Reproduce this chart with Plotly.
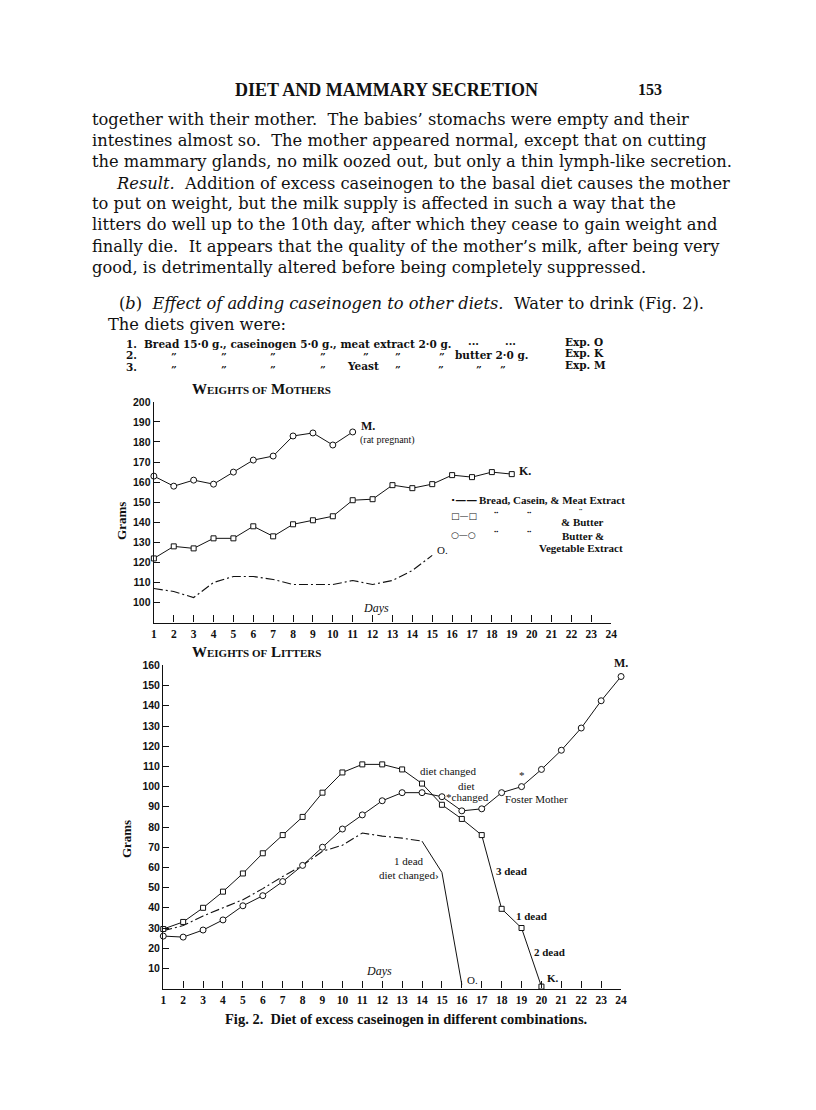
import plotly.graph_objects as go

# ============================================
# DATA
# ============================================

day_ticks = list(range(1, 25))

# Weights of mothers, grams
mother_days_o = list(range(1, 16))
mother_o = [107, 105.5, 102.5, 110, 113, 113, 111.5, 109, 109, 109, 111, 109, 111, 116, 123.5]
mother_days_k = list(range(1, 20))
mother_k = [122, 128, 127, 132, 132, 138, 133, 139, 141, 143, 151, 151.5, 158.5, 157, 159,
            163.5, 162.5, 165, 164]
mother_days_m = list(range(1, 12))
mother_m = [163, 158, 161, 159, 165, 171, 173, 183, 184.5, 178.5, 185]

# Weights of litters, grams
litter_days_o = list(range(1, 17))
litter_o = [28.7, 31.2, 36, 40, 44, 49.5, 55.5, 61, 68, 71, 77, 75.5, 74.5, 73, 57.5, 2]
litter_days_k = list(range(1, 21))
litter_k = [29.5, 33, 40, 48, 57, 67, 76, 85, 97, 107, 111, 111, 108.5, 101.5, 91, 84, 76,
            39.5, 30, 1]
litter_days_m = list(range(1, 25))
litter_m = [26, 25.5, 29, 34, 41, 46, 53, 61, 70, 79, 86, 93, 97, 97, 95, 88, 89, 97, 100,
            108.5, 118, 129, 142.5, 154.5]

mother_ticks = list(range(100, 201, 10))
litter_ticks = list(range(10, 161, 10))

# ============================================
# PAGE HELPERS
# ============================================

# the page body has an 8px margin, so the figure is a bit smaller than the window
OX, OY = 8, 10
W, H = 800, 1092
BODY = "DejaVu Serif"
SERIF = "Liberation Serif"
SANS = "Liberation Sans"
DASHDOT = "9px,3px,2px,3px"
INK = "#111"


def px(x, y):
    """page pixels -> paper coords"""
    return (x - OX) / W, 1 - (y - OY) / H


def xdom(a, b):
    return [(a - OX) / W, (b - OX) / W]


def ydom(top, bottom):
    return [1 - (bottom - OY) / H, 1 - (top - OY) / H]


annotations = []


def note(text, x, y, size=11, anchor="left", family=SERIF, angle=0, bold=False):
    ax, ay = px(x, y)
    annotations.append(dict(
        text=text, x=ax, y=ay, xref="paper", yref="paper",
        xanchor=anchor, yanchor="middle", showarrow=False, textangle=angle,
        font=dict(family=family, size=size, color=INK,
                  weight="bold" if bold else "normal"),
    ))


def tag(text, xv, yv, axis, xshift=0, yshift=0, size=11, anchor="left"):
    annotations.append(dict(
        text=text, x=xv, y=yv, xref="x" + axis, yref="y" + axis,
        xanchor=anchor, yanchor="middle", showarrow=False,
        xshift=xshift, yshift=yshift,
        font=dict(family=SERIF, size=size, color=INK),
    ))


def small_caps(a, b, c, d):
    s = "<span style='font-size:11px'>"
    return f"<b>{a}{s}{b}</span> {c}{s}{d}</span></b>"


# ============================================
# FIGURE
# ============================================

fig = go.Figure()

line = dict(color=INK, width=1)
circ = dict(symbol="circle", size=6, color="white", line=dict(color=INK, width=1))
sq = dict(symbol="square", size=5, color="white", line=dict(color=INK, width=1))
dd = dict(color=INK, width=1.1, dash=DASHDOT)

# mothers
fig.add_trace(go.Scatter(x=mother_days_o, y=mother_o, mode="lines", line=dd,
                         xaxis="x", yaxis="y", cliponaxis=False))
fig.add_trace(go.Scatter(x=mother_days_k, y=mother_k, mode="lines+markers", line=line,
                         marker=sq, xaxis="x", yaxis="y", cliponaxis=False))
fig.add_trace(go.Scatter(x=mother_days_m, y=mother_m, mode="lines+markers", line=line,
                         marker=circ, xaxis="x", yaxis="y", cliponaxis=False))

# litters (O drops steeply after the diet change, drawn solid)
fig.add_trace(go.Scatter(x=litter_days_o[:14], y=litter_o[:14], mode="lines", line=dd,
                         xaxis="x2", yaxis="y2", cliponaxis=False))
fig.add_trace(go.Scatter(x=litter_days_o[13:], y=litter_o[13:], mode="lines",
                         line=line, xaxis="x2", yaxis="y2", cliponaxis=False))
fig.add_trace(go.Scatter(x=litter_days_k, y=litter_k, mode="lines+markers", line=line,
                         marker=sq, xaxis="x2", yaxis="y2", cliponaxis=False))
fig.add_trace(go.Scatter(x=litter_days_m, y=litter_m, mode="lines+markers", line=line,
                         marker=circ, xaxis="x2", yaxis="y2", cliponaxis=False))

xcommon = dict(range=[1, 24], tickvals=day_ticks, ticks="inside", ticklen=7,
               tickcolor=INK, tickwidth=1, showline=True, linecolor=INK,
               linewidth=1.4, showgrid=False, zeroline=False,
               tickfont=dict(family=SERIF, size=11.5, color=INK, weight="bold"))
ycommon = dict(ticks="inside", ticklen=6, tickcolor=INK, tickwidth=1,
               showline=True, linecolor=INK, linewidth=1.4, showgrid=False,
               zeroline=False, tickfont=dict(family=SANS, size=10.5, color=INK, weight="bold"))

fig.update_layout(
    width=W, height=H, margin=dict(l=0, r=0, t=0, b=0),
    paper_bgcolor="white", plot_bgcolor="rgba(0,0,0,0)", showlegend=False,
    xaxis=dict(xcommon, domain=xdom(152.5, 615), anchor="y"),
    yaxis=dict(ycommon, range=[90, 200], tickvals=mother_ticks, anchor="x",
               domain=ydom(400, 622)),
    xaxis2=dict(xcommon, domain=xdom(162, 625), anchor="y2"),
    yaxis2=dict(ycommon, range=[0, 160], tickvals=litter_ticks, anchor="x2",
                domain=ydom(665, 990)),
)

# ---------- page text ----------
note("<b>DIET AND MAMMARY SECRETION</b>", 388, 86, 18, "center", SERIF)
note("<b>153</b>", 640, 86, 16, "left", SERIF)

body = [
    (88, 116, "together with their mother.  The babies\u2019 stomachs were empty and their"),
    (88, 137, "intestines almost so.  The mother appeared normal, except that on cutting"),
    (88, 158, "the mammary glands, no milk oozed out, but only a thin lymph-like secretion."),
    (112, 180, "<i>Result.</i>  Addition of excess caseinogen to the basal diet causes the mother"),
    (88, 201, "to put on weight, but the milk supply is affected in such a way that the"),
    (88, 222, "litters do well up to the 10th day, after which they cease to gain weight and"),
    (88, 244, "finally die.  It appears that the quality of the mother\u2019s milk, after being very"),
    (88, 265, "good, is detrimentally altered before being completely suppressed."),
    (115, 301, "(<i>b</i>)  <i>Effect of adding caseinogen to other diets.</i>  Water to drink (Fig. 2)."),
    (104, 322, "The diets given were:"),
]
for x, y, t in body:
    note(t, x, y, 16.3, "left", BODY)

TS = 10.5
R1, R2, R3 = 342, 353, 365
note("1.", 122, R1, TS, family=BODY, bold=True)
note("Bread 15\u00b70 g., caseinogen 5\u00b70 g., meat extract 2\u00b70 g.", 140, R1, TS,
     family=BODY, bold=True)
note("...", 468, R1 - 3, TS, family=BODY, bold=True)
note("...", 506, R1 - 3, TS, family=BODY, bold=True)
note("2.", 122, R2, TS, family=BODY, bold=True)
note("3.", 122, R3, TS, family=BODY, bold=True)
for x in [168, 218, 268, 318, 362, 394, 439]:
    note("\u201d", x, R2 + 1, 10, family=BODY, bold=True)
for x in [168, 218, 268, 318, 394, 438, 476, 501]:
    note("\u201d", x, R3 + 2, 10, family=BODY, bold=True)
note("butter 2\u00b70 g.", 455, R2, TS, family=BODY, bold=True)
note("Yeast", 346, R3 - 1, TS, family=BODY, bold=True)
note("Exp. O", 566, R1 - 2, TS, family=BODY, bold=True)
note("Exp. K", 566, R2 - 2, TS, family=BODY, bold=True)
note("Exp. M", 566, R3 - 2, TS, family=BODY, bold=True)

# ---------- mothers chart text ----------
note(small_caps("W", "EIGHTS OF", "M", "OTHERS"), 261, 387, 15, "center", SERIF)
note("<b>Grams</b>", 119, 520, 13, "center", SERIF, angle=-90)
tag("<b>M.</b>", mother_days_m[-1], mother_m[-1], "", xshift=6, yshift=6, size=12)
tag("(rat pregnant)", mother_days_m[-1], mother_m[-1], "", xshift=5, yshift=-8, size=10)
tag("<b>K.</b>", mother_days_k[-1], mother_k[-1], "", xshift=5, yshift=3, size=12)
tag("O.", mother_days_o[-1], mother_o[-1], "", xshift=3, yshift=5, size=11)
note("<i>Days</i>", 377, 607, 12, "center", SERIF)

note("\u00b7\u2014\u2014", 451, 499, 11, family="DejaVu Sans", bold=True)
note("<b>Bread, Casein, & Meat Extract</b>", 479, 499, 11)
note("\u25a1\u2014\u25a1", 451, 515, 9, family="DejaVu Sans")
note("\u25cb\u2014\u25cb", 451, 534, 9, family="DejaVu Sans")
for y in [514, 533]:
    note("\u00a8", 494, y, 13, bold=True)
    note("\u00a8", 528, y, 13, bold=True)
note("\u00a8", 580, 511, 10, bold=True)
note("<b>& Butter</b>", 562, 521, 11)
note("<b>Butter &</b>", 563, 535, 11)
note("<b>Vegetable Extract</b>", 540, 547, 11)

# ---------- litters chart text ----------
note(small_caps("W", "EIGHTS OF", "L", "ITTERS"), 256, 652, 15, "center", SERIF)
note("<b>Grams</b>", 125, 840, 13, "center", SERIF, angle=-90)
tag("<b>M.</b>", litter_days_m[-1], litter_m[-1], "2", yshift=14, size=12, anchor="center")
note("diet changed", 420, 771, 11)
note("diet", 458, 786, 11)
note("*changed", 446, 797, 11)
note("Foster Mother", 506, 799, 11)
note("*", 520, 775, 11)
note("1 dead", 428, 862, 11, "right")
note("diet changed\u203a", 443, 876, 11, "right")
note("<b>3 dead</b>", 496, 872, 11)
note("<b>1 dead</b>", 517, 917, 11)
note("<b>2 dead</b>", 535, 953, 11)
tag("<b>K.</b>", litter_days_k[-1], litter_k[-1], "2", xshift=4, yshift=9, size=11)
tag("O.", litter_days_o[-1], litter_o[-1], "2", xshift=3, yshift=5, size=11)
note("<i>Days</i>", 380, 972, 12, "center", SERIF)

note("<b>Fig. 2.  Diet of excess caseinogen in different combinations.</b>", 407, 1021,
     14.5, "center", SERIF)

fig.update_layout(annotations=annotations)

fig.write_html("out.html")
